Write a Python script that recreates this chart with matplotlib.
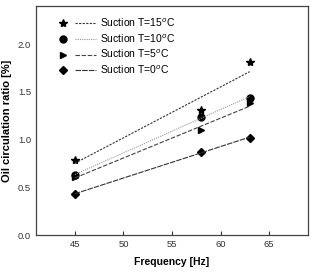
import matplotlib.pyplot as plt
from matplotlib.legend_handler import HandlerTuple
import numpy as np

plt.rcParams['font.family'] = ['Liberation Sans', 'DejaVu Sans']

# data
freq = [45, 58, 63]
labels = ['Suction T=15$^{o}$C', 'Suction T=10$^{o}$C', 'Suction T=5$^{o}$C', 'Suction T=0$^{o}$C']
t15 = [0.79, 1.31, 1.81]
t10 = [0.63, 1.24, 1.44]
t5 = [0.61, 1.10, 1.38]
t0 = [0.43, 0.87, 1.02]
xticks = [45, 50, 55, 60, 65]
yticks = [0.0, 0.5, 1.0, 1.5, 2.0]

series = [t15, t10, t5, t0]
markers = ['*', 'o', '>', 'D']
msizes = [6, 5, 5, 4.5]
styles = [(0, (2, 1.2)), (0, (1, 1)), (0, (4, 1.5)), (0, (5, 1))]
lcolors = ['#333333', '#999999', '#444444', '#333333']

fig = plt.figure(figsize=(3.13, 2.73), dpi=100)
ax = fig.add_axes([0.115, 0.139, 0.869, 0.839])

handles = []
for y, m, ms, ls, lc in zip(series, markers, msizes, styles, lcolors):
    ax.plot(freq, y, linestyle='none', marker=m, markersize=ms, color='black')
    k, b = np.polyfit(freq, y, 1)
    xs = np.array([freq[0], freq[-1]])
    ax.plot(xs, k * xs + b, linestyle=ls, color=lc, linewidth=0.8)
    hl, = ax.plot([], [], linestyle=ls, color=lc, linewidth=0.8)
    hm, = ax.plot([], [], linestyle='none', marker=m, markersize=ms, color='black')
    handles.append((hm, hl))

ax.legend(handles, labels, loc='upper left', frameon=False, fontsize=7.5,
          bbox_to_anchor=(0.025, 0.995), handlelength=4.2, handletextpad=0.35,
          labelspacing=0.32,
          handler_map={tuple: HandlerTuple(ndivide=2, pad=0.2)})

ax.set_xlim(41, 69)
ax.set_ylim(0, 2.4)
ax.set_xticks(xticks)
ax.set_yticks(yticks)
ax.set_yticklabels(['%.1f' % v for v in yticks])
ax.tick_params(direction='in', labelsize=6.8, length=3, width=0.8, colors='#333333')
ax.tick_params(axis='y', length=0)
for s in ax.spines.values():
    s.set_linewidth(0.9)
    s.set_color('#444444')
ax.set_xlabel('Frequency [Hz]', fontsize=7.5, fontweight='bold', labelpad=6)
ax.set_ylabel('Oil circulation ratio [%]', fontsize=8, fontweight='bold', labelpad=4)

fig.savefig('out.png', dpi=100)
